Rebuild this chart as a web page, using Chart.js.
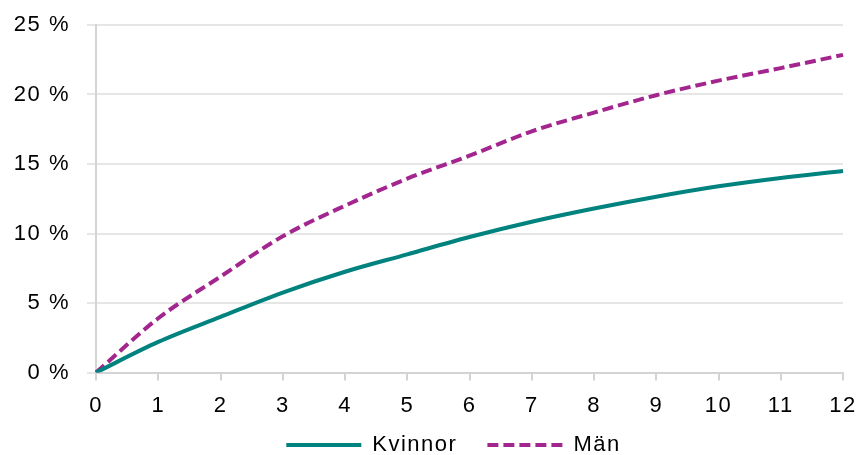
<!DOCTYPE html>
<html>
<head>
<meta charset="utf-8">
<script src="https://cdn.jsdelivr.net/npm/chart.js@4"></script>
<style>
  html, body { margin: 0; padding: 0; background: #fff; }
  #wrap { width: 862px; height: 455px; }
</style>
</head>
<body>
<div id="wrap"><canvas id="grafica"></canvas></div>
<script>
// år (x-axeln)
const years = [0, 1, 2, 3, 4, 5, 6, 7, 8, 9, 10, 11, 12];
// andel i procent
const kvinnor = [0, 2.2, 4.0, 5.75, 7.25, 8.5, 9.75, 10.85, 11.8, 12.65, 13.4, 14.0, 14.5];
const man = [0, 3.9, 6.9, 9.8, 12.0, 13.95, 15.6, 17.35, 18.7, 19.95, 21.0, 21.9, 22.85];
const yTicks = [0, 5, 10, 15, 20, 25];

const font = { family: "'Liberation Sans', Arial, sans-serif", size: 22 };
const gridColor = "#e6e6e6";
const axisColor = "#d4d4d4";

// lite extra teckenavstånd som i originalet, och en lägre legend
const tweaks = {
    id: "tweaks",
    beforeUpdate(chart) {
        chart.ctx.letterSpacing = "1.5px";
        const lg = chart.legend;
        if (lg && !lg._fixed) {
            const fit = lg.fit;
            lg.fit = function () { fit.call(this); this.height = 34.5; };
            lg._fixed = true;
        }
    },
    afterLayout(chart) {
        const lg = chart.legend;
        lg.top = 404;
        lg.left += 32;
        lg.right += 32;
    },
    beforeDraw(chart) {
        chart.ctx.letterSpacing = "1.5px";
    }
};

let canva = document.querySelector("#grafica").getContext("2d");

var chart = new Chart(canva, {
    type: "line",
    data: {
        labels: years,
        datasets: [
            {
                label: "Kvinnor",
                data: kvinnor,
                borderColor: "#00837f",
                backgroundColor: "#00837f",
                borderWidth: 4,
                pointRadius: 0,
                cubicInterpolationMode: "monotone"
            },
            {
                label: "Män",
                data: man,
                borderColor: "#a3268f",
                backgroundColor: "#a3268f",
                borderWidth: 4,
                borderDash: [11, 5],
                pointRadius: 0,
                cubicInterpolationMode: "monotone"
            }
        ]
    },
    options: {
        responsive: true,
        maintainAspectRatio: false,
        animation: false,
        layout: { padding: { top: 25, right: 19, left: 0, bottom: 0 } },
        plugins: {
            tooltip: { enabled: false },
            legend: {
                position: "bottom",
                labels: {
                    usePointStyle: true,
                    pointStyle: "line",
                    pointStyleWidth: 75,
                    boxHeight: 22,
                    color: "#000",
                    font: font,
                    padding: 30,
                    generateLabels: function (chart) {
                        const items = Chart.defaults.plugins.legend.labels.generateLabels(chart);
                        items.forEach(it => {
                            const ds = chart.data.datasets[it.datasetIndex];
                            it.lineDash = ds.borderDash || [];
                            it.lineWidth = 4;
                            it.strokeStyle = ds.borderColor;
                        });
                        return items;
                    }
                }
            }
        },
        scales: {
            x: {
                type: "category",
                offset: false,
                grid: {
                    display: true,
                    drawOnChartArea: false,
                    color: axisColor,
                    lineWidth: 2,
                    tickLength: 8
                },
                border: { color: axisColor, width: 2 },
                ticks: { color: "#000", font: font, padding: 12, maxRotation: 0 },
                afterFit: function (scale) {
                    scale.height = 48;
                    scale.paddingLeft = 0;
                    scale.paddingRight = 0;
                }
            },
            y: {
                min: 0,
                max: 25,
                afterBuildTicks: function (scale) {
                    scale.ticks = yTicks.map(v => ({ value: v }));
                },
                grid: {
                    color: gridColor,
                    lineWidth: 2,
                    tickLength: 9,
                    tickColor: gridColor
                },
                border: { color: axisColor, width: 2 },
                ticks: {
                    color: "#000",
                    font: font,
                    padding: 17,
                    callback: v => v + " %"
                },
                afterFit: function (scale) {
                    scale.width = 96;
                    scale.paddingTop = 0;
                    scale.paddingBottom = 0;
                }
            }
        }
    },
    plugins: [tweaks]
});
</script>
</body>
</html>
